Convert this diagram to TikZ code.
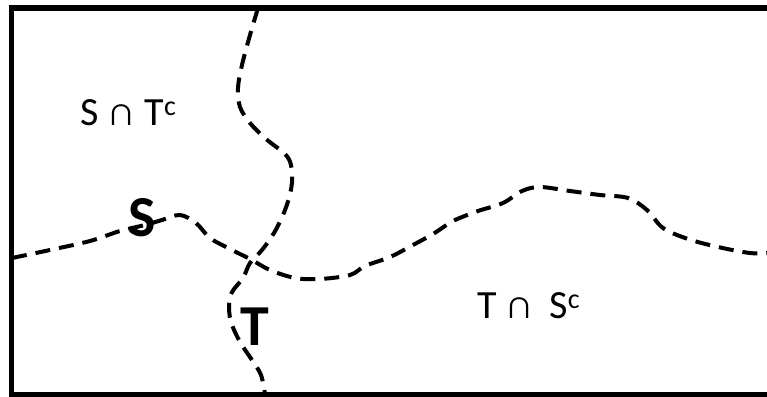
\documentclass[tikz,border=0pt]{standalone}
\usepackage{fontspec}
\setmainfont{Carlito}
\begin{document}
\begin{tikzpicture}[x=1pt,y=-1pt,
  frame/.style={line width=5.5pt,line join=miter},
  boundary/.style={line width=4pt,dash pattern=on 15pt off 9pt,line cap=butt},
  region/.style={inner sep=0pt,anchor=base west,font=\fontsize{40}{48}\selectfont},
  setname/.style={inner sep=0pt,anchor=base west,font=\fontsize{58}{64}\selectfont\bfseries}]
\useasboundingbox (0,0) rectangle (767,396);
\clip (0,0) rectangle (767,396);
\fill[white] (0,0) rectangle (767,396);
% outer frame (its right side lies beyond the page)
\draw[frame] (11.5,8) rectangle (800,395);
% boundary of T
\draw[boundary] plot[smooth,tension=0.55] coordinates {
  (258,8) (250,35) (242,65) (238,88) (240,107) (250,123) (266,139)
  (285,154) (291,165) (292,182) (289,198) (283,215) (274,233) (262,250)
  (250,263) (243,278) (232,292) (229,305) (231,322) (240,342) (252,360)
  (261,375) (265,394)};
% boundary of S
\draw[boundary] plot[smooth,tension=0.55] coordinates {
  (12,258) (50,250) (90,241) (120,231) (145,225) (162,220) (180,215)
  (196,223) (210,238) (230,249) (250,259) (270,270) (295,278) (320,279)
  (350,275) (365,266) (390,257) (413,245) (433,234) (445,226) (455,220)
  (478,211) (503,203) (522,191) (540,187) (570,191) (600,195) (628,198)
  (647,210) (663,228) (688,239) (718,247) (750,253) (770,253)};
% labels
\node[region] (snt) at (80,125) {S ∩ T\textsuperscript{c}};
\node[region] (tns) at (477,318) {T ∩ \,S\textsuperscript{c}};
\node[setname] (s) at (128,236) {S};
\node[setname] (t) at (240,345) {T};
\end{tikzpicture}
\end{document}
